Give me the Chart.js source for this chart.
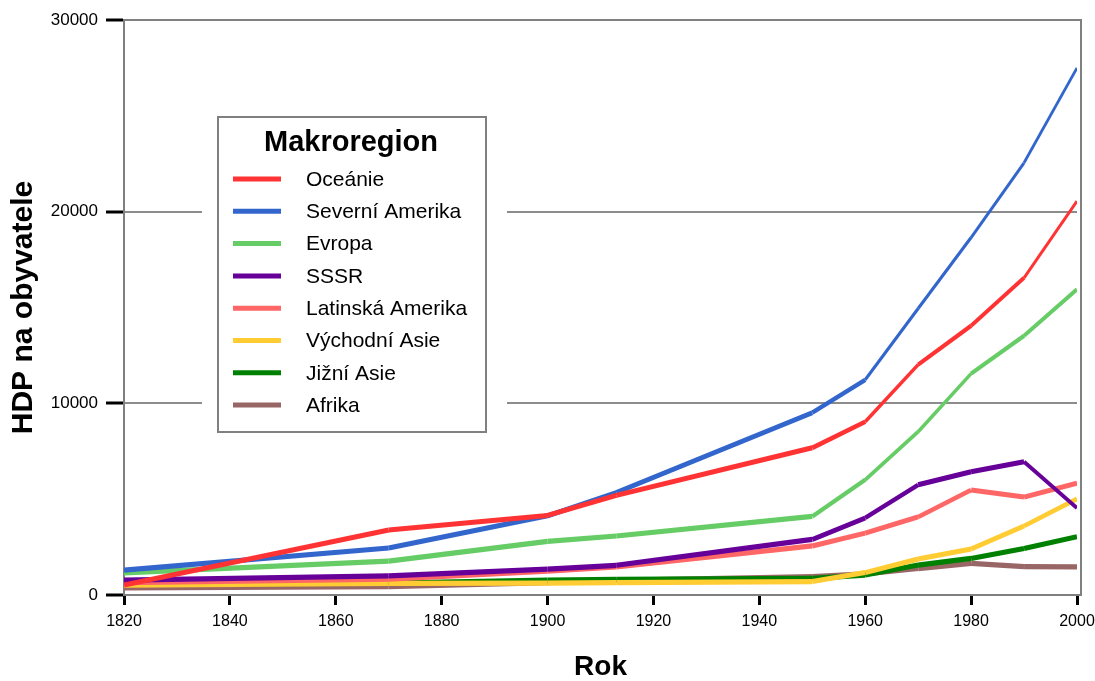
<!DOCTYPE html>
<html>
<head>
<meta charset="utf-8">
<script src="https://cdn.jsdelivr.net/npm/chart.js@4"></script>
<style>
  body { margin: 0; background: #fff; }
  canvas { display: block; }
</style>
</head>
<body>
<canvas id="myChart" width="1095" height="681"></canvas>
<script>
// roky a HDP na obyvatele podle makroregionu
const years = [1820, 1870, 1900, 1913, 1950, 1960, 1970, 1980, 1990, 2000]

const oceanie = [520, 3390, 4150, 5200, 7680, 9040, 12020, 14050, 16550, 20550]
const severniAmerika = [1300, 2450, 4130, 5350, 9510, 11230, 14950, 18650, 22550, 27500]
const evropa = [1150, 1770, 2800, 3080, 4100, 6010, 8520, 11550, 13530, 15950]
const sssr = [780, 1000, 1350, 1550, 2900, 4020, 5750, 6430, 6950, 4540]
const latinskaAmerika = [640, 830, 1250, 1460, 2560, 3230, 4070, 5480, 5110, 5840]
const vychodniAsie = [520, 610, 620, 650, 700, 1170, 1880, 2400, 3600, 5020]
const jizniAsie = [560, 620, 780, 820, 870, 1040, 1560, 1910, 2430, 3040]
const afrika = [370, 430, 640, 760, 960, 1100, 1380, 1650, 1480, 1470]

const regionNames = ['Oceánie', 'Severní Amerika', 'Evropa', 'SSSR', 'Latinská Amerika', 'Východní Asie', 'Jižní Asie', 'Afrika']
const regionColors = ['#ff3333', '#3366cc', '#66cc66', '#660099', '#ff6666', '#ffcc33', '#008000', '#996666']
const regionValues = [oceanie, severniAmerika, evropa, sssr, latinskaAmerika, vychodniAsie, jizniAsie, afrika]

const yTicks = [0, 10000, 20000, 30000]
const xTicks = [1820, 1840, 1860, 1880, 1900, 1920, 1940, 1960, 1980, 2000]

// thick lines drawn with vertical thickness, like the original
function segWidth(ctx) {
    const dx = ctx.p1.x - ctx.p0.x
    const dy = ctx.p1.y - ctx.p0.y
    const len = Math.sqrt(dx * dx + dy * dy) || 1
    return Math.max(2.8, 5.2 * dx / len)
}

const frame = {
    id: 'frame',
    afterDatasetsDraw(chart) {
        const {ctx, chartArea: a} = chart
        ctx.save()
        ctx.strokeStyle = '#808080'
        ctx.lineWidth = 2
        ctx.beginPath()
        ctx.moveTo(a.left, a.top)
        ctx.lineTo(a.right + 4, a.top)
        ctx.lineTo(a.right + 4, a.bottom)
        ctx.lineTo(a.right, a.bottom)
        ctx.stroke()
        ctx.restore()
    }
}

const boxLegend = {
    id: 'boxLegend',
    afterDraw(chart) {
        const ctx = chart.ctx
        ctx.save()
        ctx.fillStyle = '#fff'
        ctx.fillRect(202, 100, 305, 350)
        ctx.strokeStyle = '#808080'
        ctx.lineWidth = 2
        ctx.strokeRect(218, 117, 268, 315)

        ctx.fillStyle = '#000'
        ctx.textBaseline = 'middle'
        ctx.textAlign = 'center'
        ctx.font = 'bold 29px "Liberation Sans", Arial, sans-serif'
        ctx.fillText('Makroregion', 351, 143)

        ctx.textAlign = 'left'
        ctx.font = '21px "Liberation Sans", Arial, sans-serif'
        chart.data.datasets.forEach((ds, i) => {
            const y = 179 + i * 32.3
            ctx.strokeStyle = ds.borderColor
            ctx.lineWidth = 5
            ctx.beginPath()
            ctx.moveTo(233, y)
            ctx.lineTo(281, y)
            ctx.stroke()
            ctx.fillStyle = '#000'
            ctx.fillText(ds.label, 306, y + 1)
        })
        ctx.restore()
    }
}

const datasets = regionNames.map((name, i) => ({
    label: name,
    data: regionValues[i],
    borderColor: regionColors[i],
    backgroundColor: regionColors[i],
    borderWidth: 5,
    pointRadius: 0,
    tension: 0,
    fill: false,
    segment: { borderWidth: segWidth }
}))

new Chart(document.getElementById('myChart').getContext('2d'), {
    type: 'line',
    data: { labels: years, datasets: datasets },
    options: {
        responsive: false,
        devicePixelRatio: 1,
        animation: false,
        layout: { padding: { top: 20, right: 18, left: 0, bottom: 0 } },
        plugins: {
            legend: { display: false },
            tooltip: { enabled: false }
        },
        scales: {
            x: {
                type: 'linear',
                min: 1820,
                max: 2000,
                afterBuildTicks: s => { s.ticks = xTicks.map(v => ({ value: v })) },
                afterFit: s => { s.height = 86; s.paddingLeft = 0; s.paddingRight = 0 },
                ticks: {
                    color: '#000',
                    padding: 7,
                    maxRotation: 0,
                    font: { family: '"Liberation Sans", Arial', size: 16 },
                    callback: v => String(v)
                },
                grid: { drawOnChartArea: false, tickLength: 10, tickColor: '#000', tickWidth: 3 },
                border: { color: '#808080', width: 2 },
                title: {
                    display: true,
                    text: 'Rok',
                    color: '#000',
                    padding: { top: 0, bottom: -3 },
                    font: { family: '"Liberation Sans", Arial', size: 28, weight: 'bold' }
                }
            },
            y: {
                min: 0,
                max: 30000,
                afterBuildTicks: s => { s.ticks = yTicks.map(v => ({ value: v })) },
                afterFit: s => { s.width = 124 },
                ticks: {
                    color: '#000',
                    padding: 8,
                    font: { family: '"Liberation Sans", Arial', size: 17 },
                    callback: v => String(v)
                },
                grid: {
                    color: c => (c.tick && (c.tick.value === 10000 || c.tick.value === 20000)) ? '#8c8c8c' : 'rgba(0,0,0,0)',
                    lineWidth: 2,
                    tickLength: 18,
                    tickColor: '#000',
                    tickWidth: 3
                },
                border: { color: '#808080', width: 2 },
                title: {
                    display: true,
                    text: 'HDP na obyvatele',
                    color: '#000',
                    padding: { top: 6, bottom: 0 },
                    font: { family: '"Liberation Sans", Arial', size: 30, weight: 'bold' }
                }
            }
        }
    },
    plugins: [frame, boxLegend]
})
</script>
</body>
</html>
